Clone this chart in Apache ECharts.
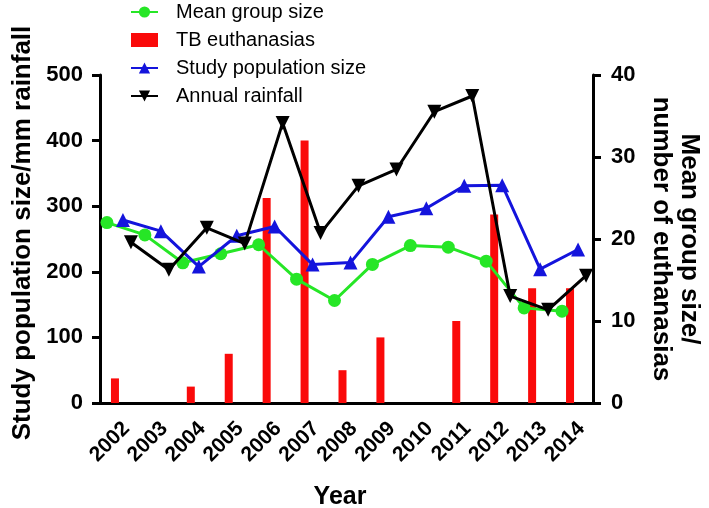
<!DOCTYPE html>
<html>
<head>
<meta charset="utf-8">
<script src="https://cdn.jsdelivr.net/npm/echarts@6/dist/echarts.min.js"></script>
<style>
html,body{margin:0;padding:0;background:#fff;}
#chart{width:709px;height:508px;}
</style>
</head>
<body>
<div id="chart"></div>
<script>
const years = ['2002','2003','2004','2005','2006','2007','2008','2009','2010','2011','2012','2013','2014'];
const meanGroupSize = [22.0, 20.5, 17.1, 18.2, 19.3, 15.1, 12.5, 16.9, 19.2, 19.0, 17.3, 11.6, 11.2];
const tbEuthanasias = [3, 0, 2, 6, 25, 32, 4, 8, 0, 10, 23, 14, 14];
const studyPopulation = [279, 262, 208, 255, 269, 211, 214, 284, 297, 331, 332, 204, 234];
const annualRainfall = [245, 203, 267, 243, 427, 259, 331, 356, 444, 468, 163, 142, 194];
const leftTicks = {min: 0, max: 500, interval: 100};
const rightTicks = {min: 0, max: 40, interval: 10};

const GRID_W = 709 - 100 - 116;
const PX_PER_YEAR = GRID_W / years.length;
function shiftedAxis(px) {
  const d = px / PX_PER_YEAR;
  return {type: 'value', gridIndex: 0, show: false, min: Number(years[0]) - 0.5 - d, max: Number(years[years.length-1]) + 0.5 - d, splitLine: {show: false}};
}
function pairs(vals) { return years.map((y, i) => [Number(y), vals[i]]); }

const FONT = '"Liberation Sans", Arial, Helvetica, sans-serif';
const GREEN = '#26e626', BLUE = '#1414dc', RED = '#fa0a0a', BLACK = '#000';

const chart = echarts.init(document.getElementById('chart'), null, {renderer: 'canvas'});
chart.setOption({
  animation: false,
  backgroundColor: '#fff',
  textStyle: {fontFamily: FONT},
  grid: {left: 100, right: 116, top: 75, bottom: 105, containLabel: false, outerBoundsMode: 'none'},
  legend: {
    orient: 'vertical', left: 130, top: 2, padding: 0,
    itemWidth: 27, itemHeight: 14, itemGap: 8,
    textStyle: {fontFamily: FONT, fontSize: 20, color: '#000', lineHeight: 20, padding: [0, 0, 0, 13]},
    data: [
      {name: 'Mean group size'},
      {name: 'TB euthanasias', icon: 'rect'},
      {name: 'Study population size'},
      {name: 'Annual rainfall'}
    ]
  },
  xAxis: [
    {
      type: 'category', gridIndex: 0, data: years, boundaryGap: true,
      name: 'Year', nameLocation: 'middle', nameGap: 82,
      nameTextStyle: {fontFamily: FONT, fontSize: 25, fontWeight: 'bold', color: '#000', padding: [0, 13, 0, 0]},
      axisLine: {lineStyle: {color: '#000', width: 3}},
      axisTick: {alignWithLabel: true, length: 9, lineStyle: {color: '#000', width: 3}},
      axisLabel: {interval: 0, rotate: 45, margin: 15, verticalAlign: 'top', color: '#000', fontFamily: FONT, fontSize: 21, fontWeight: 'bold'},
      splitLine: {show: false}
    },
    shiftedAxis(-4),
    shiftedAxis(-12),
    shiftedAxis(4),
    shiftedAxis(12)
  ],
  yAxis: [
    {
      type: 'value', min: leftTicks.min, max: leftTicks.max, interval: leftTicks.interval,
      name: 'Study population size/mm rainfall', nameLocation: 'middle', nameGap: 62, nameRotate: 90,
      nameTextStyle: {fontFamily: FONT, fontSize: 26, fontWeight: 'bold', color: '#000', padding: [0, 0, 0, 12]},
      axisLine: {show: true, lineStyle: {color: '#000', width: 3}},
      axisTick: {show: true, length: 8, lineStyle: {color: '#000', width: 3}},
      axisLabel: {margin: 17, color: '#000', fontFamily: FONT, fontSize: 22, fontWeight: 'bold'},
      splitLine: {show: false}
    },
    {
      type: 'value', position: 'right', min: rightTicks.min, max: rightTicks.max, interval: rightTicks.interval,
      name: 'Mean group size/\nnumber of euthanasias', nameLocation: 'middle', nameGap: 54, nameRotate: -90,
      nameTextStyle: {fontFamily: FONT, fontSize: 26, fontWeight: 'bold', color: '#000', lineHeight: 28},
      axisLine: {show: true, lineStyle: {color: '#000', width: 3}},
      axisTick: {show: true, length: 8, lineStyle: {color: '#000', width: 3}},
      axisLabel: {margin: 18, color: '#000', fontFamily: FONT, fontSize: 22, fontWeight: 'bold'},
      splitLine: {show: false}
    }
  ],
  series: [
    {
      name: 'TB euthanasias', type: 'bar', xAxisIndex: 1, yAxisIndex: 1,
      data: pairs(tbEuthanasias), barWidth: 8, itemStyle: {color: RED}, z: 1
    },
    {
      name: 'Mean group size', type: 'line', xAxisIndex: 2, yAxisIndex: 1,
      data: pairs(meanGroupSize), symbol: 'circle', symbolSize: 13,
      lineStyle: {color: GREEN, width: 3}, itemStyle: {color: GREEN}, z: 2
    },
    {
      name: 'Study population size', type: 'line', xAxisIndex: 3, yAxisIndex: 0,
      data: pairs(studyPopulation), symbol: 'triangle', symbolSize: 14,
      lineStyle: {color: BLUE, width: 3}, itemStyle: {color: BLUE}, z: 3
    },
    {
      name: 'Annual rainfall', type: 'line', xAxisIndex: 4, yAxisIndex: 0,
      data: pairs(annualRainfall), symbol: 'triangle', symbolRotate: 180, symbolSize: 14,
      lineStyle: {color: BLACK, width: 3}, itemStyle: {color: BLACK}, z: 4
    }
  ]
});
</script>
</body>
</html>
